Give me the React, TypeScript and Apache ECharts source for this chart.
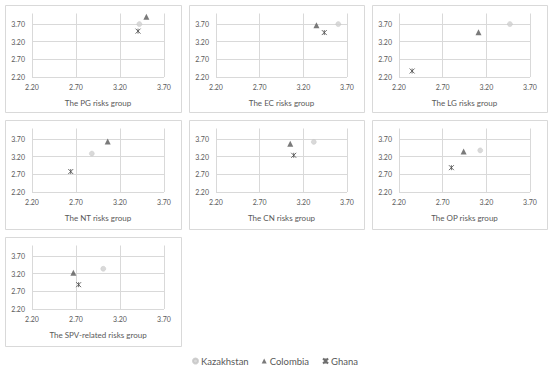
import React, { useEffect, useRef } from "react";
import * as echarts from "echarts";

// Panel titles
const groups = [
  "The PG risks group",
  "The EC risks group",
  "The LG risks group",
  "The NT risks group",
  "The CN risks group",
  "The OP risks group",
  "The SPV-related risks group",
];

// [x, y] per group
const kazakhstan: [number, number][] = [
  [3.42, 3.7],
  [3.6, 3.7],
  [3.47, 3.7],
  [2.88, 3.29],
  [3.32, 3.62],
  [3.13, 3.38],
  [3.01, 3.34],
];
const colombia: [number, number][] = [
  [3.5, 3.91],
  [3.35, 3.67],
  [3.11, 3.47],
  [3.06, 3.63],
  [3.05, 3.57],
  [2.94, 3.35],
  [2.67, 3.23],
];
const ghana: [number, number][] = [
  [3.405, 3.5],
  [3.44, 3.46],
  [2.35, 2.37],
  [2.64, 2.78],
  [3.09, 3.24],
  [2.8, 2.89],
  [2.73, 2.89],
];

const seriesNames = ["Kazakhstan", "Colombia", "Ghana"];
const axisMin = 2.2;
const xMax = 3.7;
const yMax = 4.0;
const tickStep = 0.5;

// panel boxes: x, y, w, h
const panels = [
  [5, 5, 176, 107],
  [189, 5, 175, 107],
  [372, 5, 175, 107],
  [5, 120, 176, 109],
  [189, 120, 175, 109],
  [372, 120, 175, 109],
  [5, 237, 176, 109],
];

const FONT = "Lato, 'Open Sans', sans-serif";
const GRID = "#d9d9d9";
const TXT = "#595959";
const STAR = "path://M0,0L10,10M10,0L0,10M5,0L5,10";

export default function App() {
  const ref = useRef<HTMLDivElement>(null);
  useEffect(() => {
    if (!ref.current) return;
    const chart = echarts.init(ref.current, undefined, { renderer: "svg" });
    const grids: any[] = [];
    const xAxes: any[] = [];
    const yAxes: any[] = [];
    const series: any[] = [];
    const graphics: any[] = [];
    panels.forEach((p, i) => {
      const [px, py, pw, ph] = p;
      graphics.push({
        type: "rect",
        shape: { x: px + 0.5, y: py + 0.5, width: pw, height: ph },
        style: { fill: "#fff", stroke: GRID, lineWidth: 1 },
        z: -10,
      });
      grids.push({
        left: px + 27,
        top: py + 8.5,
        width: pw - 44,
        height: 63.5,
      });
      xAxes.push({
        type: "value",
        gridIndex: i,
        min: axisMin,
        max: xMax,
        interval: tickStep,
        name: groups[i],
        nameLocation: "middle",
        nameGap: 22,
        nameTextStyle: { fontFamily: FONT, fontSize: 8, color: TXT },
        axisLine: { show: false },
        axisTick: { show: false },
        axisLabel: {
          fontFamily: FONT,
          fontSize: 7,
          color: TXT,
          margin: 6,
          formatter: (v: number) => v.toFixed(2),
        },
        splitLine: { show: true, lineStyle: { color: GRID, width: 1 } },
      });
      yAxes.push({
        type: "value",
        gridIndex: i,
        min: axisMin,
        max: yMax,
        interval: tickStep,
        axisLine: { show: false },
        axisTick: { show: false },
        axisLabel: {
          fontFamily: FONT,
          fontSize: 7,
          color: TXT,
          margin: 7,
          showMaxLabel: false,
          formatter: (v: number) => v.toFixed(2),
        },
        splitLine: {
          show: true,
          showMaxLine: false,
          lineStyle: { color: GRID, width: 1 },
        },
      });
      series.push(
        {
          name: seriesNames[0],
          type: "scatter",
          xAxisIndex: i,
          yAxisIndex: i,
          symbol: "circle",
          symbolSize: 5,
          itemStyle: { color: "#d0d0d0", borderColor: "#c4c4c4", borderWidth: 0.5 },
          data: [kazakhstan[i]],
        },
        {
          name: seriesNames[1],
          type: "scatter",
          xAxisIndex: i,
          yAxisIndex: i,
          symbol: "triangle",
          symbolSize: 6,
          itemStyle: { color: "#595959" },
          data: [colombia[i]],
        },
        {
          name: seriesNames[2],
          type: "scatter",
          xAxisIndex: i,
          yAxisIndex: i,
          symbol: STAR,
          symbolSize: 5,
          itemStyle: { color: "#4a4a4a", borderColor: "#4a4a4a", borderWidth: 1 },
          data: [ghana[i]],
        }
      );
    });
    chart.setOption({
      animation: false,
      backgroundColor: "#fff",
      textStyle: { fontFamily: FONT },
      grid: grids,
      xAxis: xAxes,
      yAxis: yAxes,
      series,
      graphic: graphics,
      legend: {
        data: seriesNames,
        left: "center",
        top: 351,
        itemWidth: 5,
        itemHeight: 5,
        itemGap: 13,
        textStyle: { fontFamily: FONT, fontSize: 9.5, color: TXT, padding: [0, 0, 0, -2] },
      },
    });
    return () => chart.dispose();
  }, []);
  return (
    <div
      ref={ref}
      style={{ position: "absolute", left: 0, top: 0, width: 550, height: 369 }}
    />
  );
}
